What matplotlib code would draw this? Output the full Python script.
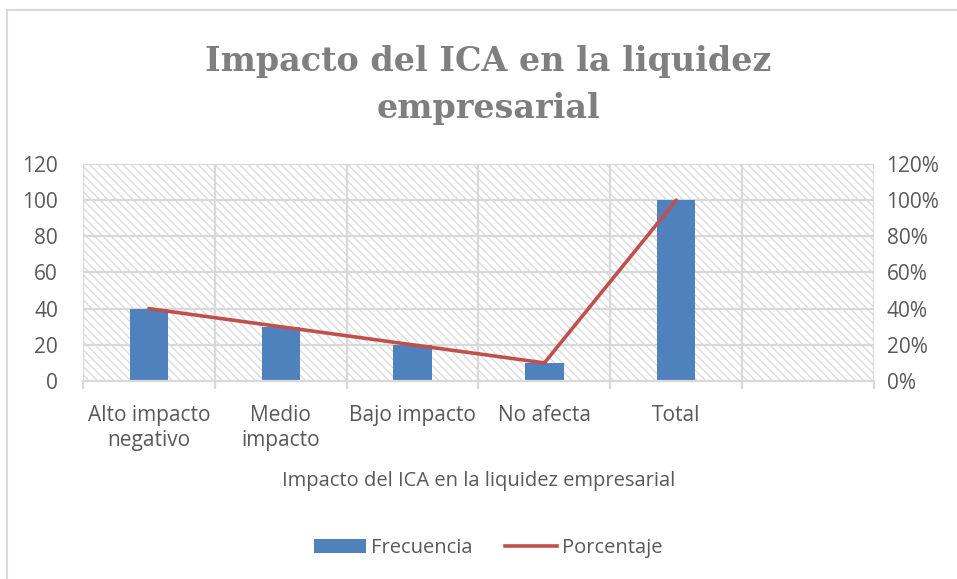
import numpy as np
import matplotlib
matplotlib.use("Agg")
import matplotlib.pyplot as plt
from matplotlib.patches import Rectangle, Patch
from matplotlib.lines import Line2D
from matplotlib.ticker import FuncFormatter

# data
categorias = ["Alto impacto\nnegativo", "Medio\nimpacto", "Bajo impacto", "No afecta", "Total", ""]
frecuencia = [40, 30, 20, 10, 100]
porcentaje = [0.40, 0.30, 0.20, 0.10, 1.00]

titulo = "Impacto del ICA en la liquidez\nempresarial"
eje_x = "Impacto del ICA en la liquidez empresarial"

azul = "#4f81bd"
rojo = "#c0504d"
gris_txt = "#595959"
gris_grid = "#d9d9d9"

plt.rcParams['font.family'] = ['Open Sans', 'DejaVu Sans']
plt.rcParams['hatch.linewidth'] = 0.9
plt.rcParams['hatch.color'] = gris_grid

fig = plt.figure(figsize=(9.57, 5.79), dpi=100)
ax = fig.add_axes([0.0867, 0.342, 0.8266, 0.3748])

x = np.arange(len(categorias))
ax.set_xlim(-0.5, len(categorias) - 0.5)
ax.set_ylim(0, 120)

# fondo rayado del area de trazado
ax.add_patch(Rectangle((0, 0), 1, 1, transform=ax.transAxes, facecolor="white",
                       edgecolor=gris_grid, hatch="\\\\\\\\", lw=0, zorder=0))

# grid
for yv in range(20, 121, 20):
    ax.axhline(yv, color=gris_grid, lw=1.6, zorder=1)
for xv in np.arange(-0.5, len(categorias), 1.0):
    ax.axvline(xv, color=gris_grid, lw=1.6, zorder=1)

ax.bar(x[:len(frecuencia)], frecuencia, width=0.29, color=azul, zorder=2)

ax2 = ax.twinx()
ax2.set_ylim(0, 1.2)
ax2.plot(x[:len(porcentaje)], porcentaje, color=rojo, lw=2.6, solid_capstyle="round", zorder=3)
ax2.yaxis.set_major_formatter(FuncFormatter(lambda v, p: f"{v*100:.0f}%"))
ax2.set_yticks(np.arange(0, 1.21, 0.2))

for a in (ax, ax2):
    for s in a.spines.values():
        s.set_visible(False)
ax.spines['bottom'].set_visible(True)
ax.spines['bottom'].set_color(gris_grid)
ax.spines['bottom'].set_linewidth(1.6)

ax.set_yticks(range(0, 121, 20))
ax.tick_params(axis='y', length=0, labelsize=15, labelcolor=gris_txt, pad=18)
ax2.tick_params(axis='y', length=0, labelsize=15, labelcolor=gris_txt, pad=9)

ax.set_xticks(np.arange(-0.5, len(categorias), 1.0), minor=False)
ax.set_xticklabels([])
ax.tick_params(axis='x', which='major', length=6, width=1.6, color=gris_grid)
ax.set_xticks(x, minor=True)
ax.set_xticklabels(categorias, minor=True, linespacing=1.3)
ax.tick_params(axis='x', which='minor', length=0, labelsize=15, labelcolor=gris_txt, pad=17)

ax.set_xlabel(eje_x, fontsize=14.5, color=gris_txt, labelpad=14)

fig.text(0.51, 0.853, titulo, ha="center", va="center", fontsize=24, fontweight="bold",
         family="DejaVu Serif", color="#7f7f7f", linespacing=1.55)

handles = [Patch(facecolor=azul, edgecolor="none"),
           Line2D([0], [0], color=rojo, lw=2.6)]
fig.legend(handles, ["Frecuencia", "Porcentaje"], loc="center", bbox_to_anchor=(0.51, 0.053),
           ncol=2, frameon=False, fontsize=14.5, labelcolor=gris_txt, handlelength=2.6,
           handletextpad=0.25, columnspacing=1.6)

# marco exterior (bordes superior e izquierdo visibles)
fig.add_artist(Line2D([0.0075, 0.0075], [0, 0.983], transform=fig.transFigure, color=gris_grid, lw=1.5))
fig.add_artist(Line2D([0.0075, 1], [0.983, 0.983], transform=fig.transFigure, color=gris_grid, lw=1.5))

fig.savefig("out.png", dpi=100)
